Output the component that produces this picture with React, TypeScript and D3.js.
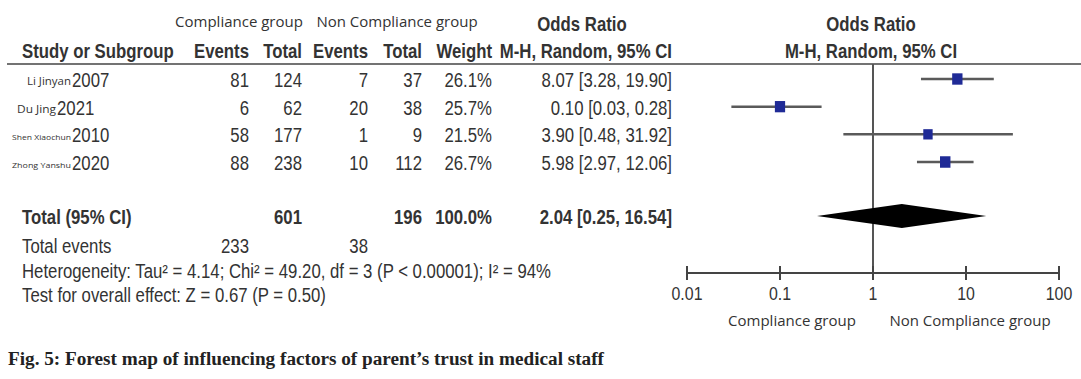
import React from "react";
import * as d3 from "d3";

const authors = ["Li Jinyan", "Du Jing", "Shen Xiaochun", "Zhong Yanshu"];
const years = ["2007", "2021", "2010", "2020"];
const expEvents = [81, 6, 58, 88];
const expTotal = [124, 62, 177, 238];
const ctlEvents = [7, 20, 1, 10];
const ctlTotal = [37, 38, 9, 112];
const weights = ["26.1%", "25.7%", "21.5%", "26.7%"];
const weightVals = [26.1, 25.7, 21.5, 26.7];
const orVals = [8.07, 0.1, 3.9, 5.98];
const ciLow = [3.28, 0.03, 0.48, 2.97];
const ciHigh = [19.9, 0.28, 31.92, 12.06];
const orLabels = ["8.07 [3.28, 19.90]", "0.10 [0.03, 0.28]", "3.90 [0.48, 31.92]", "5.98 [2.97, 12.06]"];
const totalExp = 601;
const totalCtl = 196;
const totalWeight = "100.0%";
const totalOR = [2.04, 0.25, 16.54];
const totalLabel = "2.04 [0.25, 16.54]";
const totalEvents = [233, 38];
const axisTicks = [0.01, 0.1, 1, 10, 100];
const axisTickLabels = ["0.01", "0.1", "1", "10", "100"];

const W = 1081;
const H = 379;
const sans = "'Liberation Sans', Arial, sans-serif";
const headFont = "'Open Sans', 'Noto Sans', sans-serif";
const SX = 0.86;
const FS = 19.5;
const TXT = "#333";

type TP = { x: number; y: number; anchor?: string; bold?: boolean; size?: number; children: React.ReactNode };
function T({ x, y, anchor = "start", bold = false, size = FS, children }: TP) {
  return (
    <text
      transform={`translate(${x},${y}) scale(${SX},1)`}
      textAnchor={anchor}
      fontFamily={sans}
      fontSize={size}
      fontWeight={bold ? "bold" : "normal"}
      fill={TXT}
    >
      {children}
    </text>
  );
}

export default function App() {
  const x = d3.scaleLog().domain([0.01, 100]).range([687, 1059]);
  const rowY = d3.scalePoint<number>().domain([0, 1, 2, 3]).range([79, 162]);
  const sizeScale = d3.scaleSqrt().domain([0, 27]).range([0, 10.5]);
  const axisY = 273;
  const col = { ev1: 249, tot1: 302, ev2: 368, tot2: 422, weight: 492, or: 672 };
  const authorStart = [27, 17, 12, 12];
  const yearStart = [72, 57, 72, 72];
  const authorSize = [10, 10.5, 8, 8];
  const textOff = 8;

  const dMid = 216, dHalf = 12;
  const diamond = d3.line<[number, number]>()([
    [x(totalOR[1]), dMid],
    [x(totalOR[0]), dMid - dHalf],
    [x(totalOR[2]), dMid],
    [x(totalOR[0]), dMid + dHalf],
  ]) + "Z";

  return (
    <svg width={W} height={H} style={{ position: "absolute", left: 0, top: 0, background: "#fff" }}>
      <rect width={W} height={H} fill="#fff" />
      <g fontFamily={headFont} fontSize={15} fill={TXT} textAnchor="middle">
        <text x={239} y={27}>Compliance group</text>
        <text x={397} y={27}>Non Compliance group</text>
      </g>
      <T x={582} y={31} anchor="middle" bold>Odds Ratio</T>
      <T x={871} y={31} anchor="middle" bold>Odds Ratio</T>
      <T x={22} y={58} bold>Study or Subgroup</T>
      <T x={col.ev1} y={58} anchor="end" bold>Events</T>
      <T x={col.tot1} y={58} anchor="end" bold>Total</T>
      <T x={col.ev2} y={58} anchor="end" bold>Events</T>
      <T x={col.tot2} y={58} anchor="end" bold>Total</T>
      <T x={col.weight} y={58} anchor="end" bold>Weight</T>
      <T x={col.or} y={58} anchor="end" bold>M-H, Random, 95% CI</T>
      <T x={871} y={58} anchor="middle" bold>M-H, Random, 95% CI</T>
      <line x1={7} x2={W} y1={64} y2={64} stroke="#444" strokeWidth={1.6} />

      {authors.map((a, i) => {
        const ty = rowY(i)! + textOff;
        return (
          <g key={a}>
            <text
              x={authorStart[i]}
              y={ty - 2}
              fontFamily={headFont}
              fontSize={authorSize[i]}
              fill={TXT}
              textLength={yearStart[i] - authorStart[i] - 1}
              lengthAdjust="spacingAndGlyphs"
            >
              {a}
            </text>
            <T x={yearStart[i]} y={ty}>{years[i]}</T>
            <T x={col.ev1} y={ty} anchor="end">{expEvents[i]}</T>
            <T x={col.tot1} y={ty} anchor="end">{expTotal[i]}</T>
            <T x={col.ev2} y={ty} anchor="end">{ctlEvents[i]}</T>
            <T x={col.tot2} y={ty} anchor="end">{ctlTotal[i]}</T>
            <T x={col.weight} y={ty} anchor="end">{weights[i]}</T>
            <T x={col.or} y={ty} anchor="end">{orLabels[i]}</T>
          </g>
        );
      })}

      <line x1={x(1)} x2={x(1)} y1={64} y2={axisY} stroke="#555" strokeWidth={2} />

      {orVals.map((v, i) => {
        const s = sizeScale(weightVals[i]);
        return (
          <g key={i}>
            <line x1={x(ciLow[i])} x2={x(ciHigh[i])} y1={rowY(i)!} y2={rowY(i)!} stroke="#5a5a5a" strokeWidth={2.5} />
            <rect x={x(v) - s / 2} y={rowY(i)! - s * 0.55} width={s} height={s * 1.1} fill="#1f2a96" />
          </g>
        );
      })}

      <T x={22} y={224} bold>Total (95% CI)</T>
      <T x={col.tot1} y={224} anchor="end" bold>{totalExp}</T>
      <T x={col.tot2} y={224} anchor="end" bold>{totalCtl}</T>
      <T x={col.weight} y={224} anchor="end" bold>{totalWeight}</T>
      <T x={col.or} y={224} anchor="end" bold>{totalLabel}</T>
      <path d={diamond} fill="#000" />

      <T x={22} y={253}>Total events</T>
      <T x={col.ev1} y={253} anchor="end">{totalEvents[0]}</T>
      <T x={col.ev2} y={253} anchor="end">{totalEvents[1]}</T>
      <T x={22} y={278}>Heterogeneity: Tau² = 4.14; Chi² = 49.20, df = 3 (P &lt; 0.00001); I² = 94%</T>
      <T x={22} y={302}>Test for overall effect: Z = 0.67 (P = 0.50)</T>

      <line x1={x(0.01)} x2={x(100)} y1={axisY} y2={axisY} stroke="#444" strokeWidth={2} />
      {axisTicks.map((t, i) => (
        <g key={t}>
          <line x1={x(t)} x2={x(t)} y1={axisY - 7} y2={axisY + 7} stroke="#444" strokeWidth={2} />
          <T x={x(t)} y={300} anchor="middle" size={18.5}>{axisTickLabels[i]}</T>
        </g>
      ))}
      <g fontFamily={headFont} fontSize={15} fill={TXT} textAnchor="middle">
        <text x={792} y={326}>Compliance group</text>
        <text x={970} y={326}>Non Compliance group</text>
      </g>

      <text x={8} y={365} fontFamily="'Liberation Serif', 'Times New Roman', serif" fontWeight="bold" fontSize={19.2} fill="#222">
        Fig. 5: Forest map of influencing factors of parent’s trust in medical staff
      </text>
    </svg>
  );
}
